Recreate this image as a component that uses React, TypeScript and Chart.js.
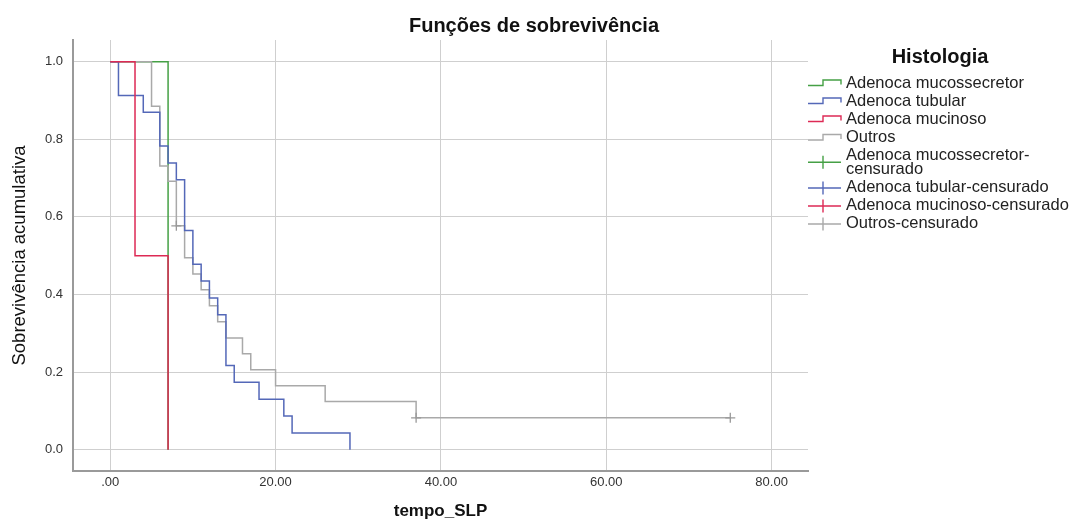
import React, { useEffect, useRef } from "react";
import { Chart, registerables } from "chart.js";

Chart.register(...registerables);

// ---- data ----
const xTickValues = [0, 20, 40, 60, 80];
const yTickValues = [0, 0.2, 0.4, 0.6, 0.8, 1.0];

const mucossecretorTimes = [0, 7];
const mucossecretorSurv = [1, 0];

const tubularTimes = [0, 1, 4, 6, 7, 8, 9, 10, 11, 12, 13, 14, 15, 18, 21, 22, 29];
const tubularSurv = [1, 0.913, 0.87, 0.783, 0.739, 0.696, 0.565, 0.478, 0.435, 0.391, 0.348, 0.217, 0.174, 0.13, 0.087, 0.043, 0];

const mucinosoTimes = [0, 3, 7];
const mucinosoSurv = [1, 0.5, 0];

const outrosTimes = [0, 5, 6, 7, 8, 9, 10, 11, 12, 13, 14, 16, 17, 20, 26, 37, 75];
const outrosSurv = [1, 0.885, 0.731, 0.692, 0.577, 0.495, 0.453, 0.412, 0.371, 0.33, 0.288, 0.247, 0.206, 0.165, 0.124, 0.082, 0.082];

const outrosCensTimes = [8, 37, 75];
const outrosCensSurv = [0.577, 0.082, 0.082];

const legendLabels = [
  "Adenoca mucossecretor",
  "Adenoca tubular",
  "Adenoca mucinoso",
  "Outros",
  "Adenoca mucossecretor-\ncensurado",
  "Adenoca tubular-censurado",
  "Adenoca mucinoso-censurado",
  "Outros-censurado",
];

const GREEN = "#45a045";
const BLUE = "#5468b8";
const RED = "#dd2a55";
const GREY = "#a9a9a9";
const legendColors = [GREEN, BLUE, RED, GREY, GREEN, BLUE, RED, GREY];

const FONT = "'Liberation Sans', Arial, sans-serif";

const pts = (t: number[], s: number[]) => t.map((v, i) => ({ x: v, y: s[i] }));

const overlayPlugin = {
  id: "overlay",
  afterDraw(chart: any) {
    const ctx = chart.ctx as CanvasRenderingContext2D;
    ctx.save();
    // title
    ctx.fillStyle = "#111";
    ctx.textAlign = "center";
    ctx.textBaseline = "middle";
    ctx.font = `bold 20px ${FONT}`;
    ctx.fillText("Funções de sobrevivência", 534, 26);
    // legend title
    ctx.font = `bold 20px ${FONT}`;
    ctx.fillText("Histologia", 940, 57);
    // legend items
    const rows = [
      [83],
      [101],
      [119],
      [137.5],
      [155, 169.5],
      [187],
      [205],
      [223],
    ];
    ctx.font = `16.5px ${FONT}`;
    ctx.textAlign = "left";
    legendLabels.forEach((label, i) => {
      const lines = label.split("\n");
      const ys = rows[i];
      ctx.fillStyle = "#222";
      lines.forEach((ln, j) => ctx.fillText(ln, 846, ys[j]));
      const cy = ys.length > 1 ? (ys[0] + ys[1]) / 2 : ys[0] + 1;
      ctx.strokeStyle = legendColors[i];
      ctx.lineWidth = 1.4;
      ctx.beginPath();
      if (i < 4) {
        ctx.moveTo(808, cy + 1.5);
        ctx.lineTo(823, cy + 1.5);
        ctx.lineTo(823, cy - 4);
        ctx.lineTo(841, cy - 4);
        ctx.lineTo(841, cy + 0.5);
      } else {
        ctx.moveTo(808, cy);
        ctx.lineTo(841, cy);
        ctx.moveTo(823, cy - 6.5);
        ctx.lineTo(823, cy + 6.5);
      }
      ctx.stroke();
    });
    ctx.restore();
  },
};

export default function App() {
  const ref = useRef<HTMLCanvasElement>(null);
  useEffect(() => {
    Chart.defaults.font.family = FONT;
    const lineDs = (label: string, t: number[], s: number[], color: string, order: number) => ({
      type: "line" as const,
      label,
      data: pts(t, s),
      borderColor: color,
      backgroundColor: color,
      borderWidth: 1.5,
      pointRadius: 0,
      stepped: "before" as const,
      fill: false,
      tension: 0,
      order,
    });
    const chart = new Chart(ref.current!, {
      type: "line",
      data: {
        datasets: [
          lineDs("Adenoca mucossecretor", mucossecretorTimes, mucossecretorSurv, GREEN, 3),
          lineDs("Adenoca tubular", tubularTimes, tubularSurv, BLUE, 1),
          lineDs("Adenoca mucinoso", mucinosoTimes, mucinosoSurv, RED, 0),
          lineDs("Outros", outrosTimes, outrosSurv, GREY, 2),
          {
            type: "scatter" as const,
            label: "Outros-censurado",
            data: pts(outrosCensTimes, outrosCensSurv),
            borderColor: "#999",
            backgroundColor: "#999",
            pointStyle: "cross",
            pointRadius: 5,
            borderWidth: 1.3,
            showLine: false,
            order: 0,
          } as any,
        ],
      },
      options: {
        animation: false,
        responsive: false,
        maintainAspectRatio: false,
        layout: { padding: { left: 0, top: 40, right: 265, bottom: 0 } },
        plugins: {
          legend: { display: false },
          tooltip: { enabled: false },
          title: { display: false },
        },
        scales: {
          x: {
            type: "linear",
            min: -4.5,
            max: 84.4,
            afterBuildTicks: (s: any) => {
              s.ticks = xTickValues.map((v) => ({ value: v }));
            },
            afterFit: (s: any) => {
              s.height = 54;
            },
            grid: { color: "#cfcfcf", lineWidth: 1, drawTicks: false },
            border: { color: "#9a9a9a", width: 2 },
            ticks: {
              padding: 4,
              autoSkip: false,
              maxRotation: 0,
              color: "#333",
              font: { size: 13 },
              callback: (v: any) => (Number(v) === 0 ? ".00" : Number(v).toFixed(2)),
            },
            title: {
              display: true,
              text: "tempo_SLP",
              color: "#111",
              font: { size: 17, weight: "bold" },
              padding: { top: 0, bottom: 3 },
            },
          },
          y: {
            type: "linear",
            min: -0.055,
            max: 1.056,
            afterBuildTicks: (s: any) => {
              s.ticks = yTickValues.map((v) => ({ value: v }));
            },
            afterFit: (s: any) => {
              s.width = 73;
            },
            grid: { color: "#cfcfcf", lineWidth: 1, drawTicks: false },
            border: { color: "#9a9a9a", width: 2 },
            ticks: {
              padding: 10,
              color: "#333",
              font: { size: 13 },
              callback: (v: any) => Number(v).toFixed(1),
            },
            title: {
              display: true,
              text: "Sobrevivência acumulativa",
              color: "#111",
              font: { size: 18.5 },
              padding: { top: 9, bottom: 0 },
            },
          },
        },
      } as any,
      plugins: [overlayPlugin],
    });
    return () => chart.destroy();
  }, []);
  return (
    <div style={{ position: "absolute", left: 0, top: 0, width: 1073, height: 525, background: "#fff" }}>
      <canvas ref={ref} width={1073} height={525} style={{ width: 1073, height: 525, display: "block" }} />
    </div>
  );
}
